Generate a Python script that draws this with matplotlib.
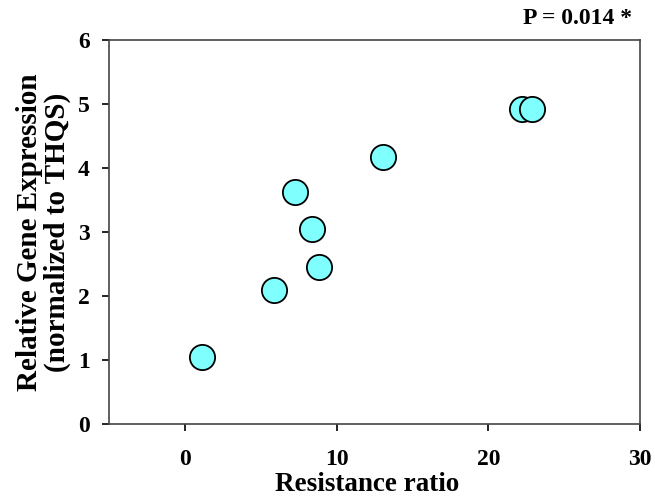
import matplotlib
matplotlib.use("Agg")
from matplotlib import pyplot as plt

# data
resistance_ratio = [1.1, 5.86, 7.28, 8.4, 8.84, 13.05, 22.2, 22.9]
relative_expression = [1.04, 2.09, 3.63, 3.04, 2.46, 4.17, 4.92, 4.92]
x_ticks = [0, 10, 20, 30]
y_ticks = [0, 1, 2, 3, 4, 5, 6]

plt.rcParams["font.family"] = ["Liberation Serif", "DejaVu Serif"]
plt.rcParams["font.weight"] = "bold"

fig = plt.figure(figsize=(6.55, 4.96), dpi=100)
ax = fig.add_axes([109 / 655, 1 - 424 / 496, 531 / 655, 384 / 496])

ax.scatter(resistance_ratio, relative_expression, s=330, c="#80ffff",
           edgecolors="black", linewidths=1.3, zorder=3, clip_on=False)

ax.set_xlim(-5, 30)
ax.set_ylim(0, 6)
ax.set_xticks(x_ticks)
ax.set_yticks(y_ticks)
ax.tick_params(axis="both", direction="out", length=5, width=1.2,
               labelsize=17, color="black")
for lbl in ax.get_xticklabels() + ax.get_yticklabels():
    lbl.set_fontweight("bold")
ax.tick_params(axis="x", pad=13)
ax.tick_params(axis="y", pad=9)

for name, sp in ax.spines.items():
    sp.set_color("#444444")
    sp.set_linewidth(1.2)

ax.set_xlabel("Resistance ratio", fontsize=19.5, fontweight="bold", labelpad=2)
ax.xaxis.set_label_coords(0.486, -0.125)
ax.set_ylabel("Relative Gene Expression\n(normalized to THQS)", fontsize=21,
              fontweight="bold", labelpad=5, linespacing=1.0)

fig.text(632 / 655, 1 - 18 / 496, "P = 0.014 *", ha="right", va="center",
         fontsize=17, fontweight="bold")

fig.savefig("out.png", dpi=100)
